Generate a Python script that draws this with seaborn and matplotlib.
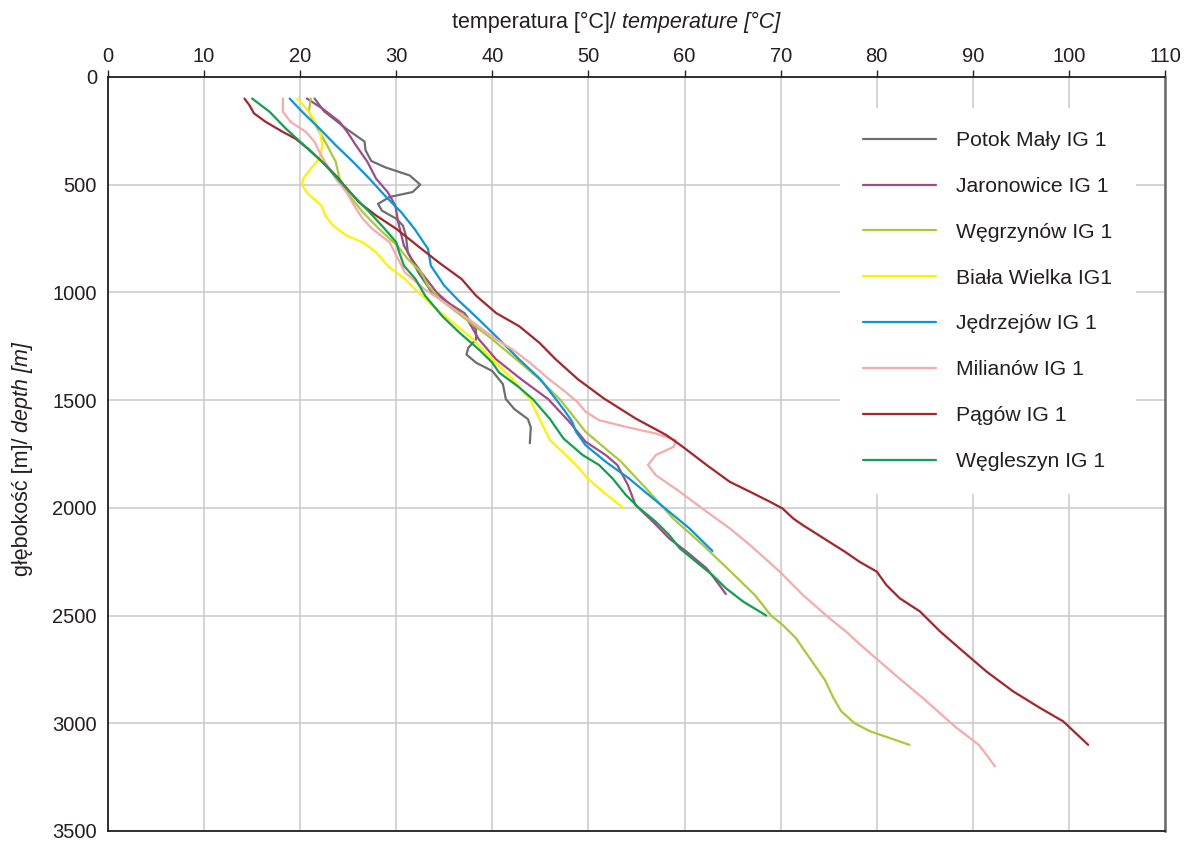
import pandas as pd
import numpy as np
import matplotlib
matplotlib.use("Agg")
import matplotlib.pyplot as plt
import seaborn as sns

# profile temperatur w otworach: glebokosc [m] / temperatura [C]
potok_depth = [100, 160, 240, 300, 340, 390, 420, 457, 500, 534, 557, 589, 620, 658, 690, 736, 814, 907, 1000,
               1096, 1172, 1218, 1257, 1288, 1326, 1365, 1426, 1495, 1542, 1588, 1626, 1700]
potok_temp = [21.5, 22.5, 24.8, 26.7, 26.8, 27.4, 28.9, 31.4, 32.5, 31.7, 29.3, 28.1, 28.5, 30.0, 30.7, 31.0, 31.2, 32.3, 33.7,
              37.1, 38.3, 38.3, 37.5, 37.3, 38.3, 40.0, 41.1, 41.4, 42.3, 43.7, 44.0, 43.9]

jaron_depth = [100, 146, 208, 255, 317, 394, 472, 534, 596, 674, 783, 845, 907, 1000, 1126, 1218, 1311, 1403, 1495,
               1600, 1693, 1755, 1801, 1894, 1987, 2064, 2142, 2203, 2281, 2327, 2400]
jaron_temp = [20.7, 22.3, 24.1, 24.9, 25.8, 27.0, 27.9, 29.1, 29.9, 30.2, 30.8, 31.6, 32.6, 34.2, 37.4, 38.6, 40.4, 43.0, 45.8,
              48.0, 49.7, 51.8, 53.0, 54.1, 54.9, 56.7, 58.4, 60.2, 62.3, 63.1, 64.3]

wegrz_depth = [100, 161, 239, 317, 394, 472, 550, 627, 705, 783, 845, 907, 969, 1034, 1126, 1218, 1311, 1403, 1500,
               1647, 1786, 1910, 2049, 2172, 2296, 2404, 2500, 2543, 2605, 2651, 2728, 2798, 2883, 2944, 3000, 3037, 3100]
wegrz_temp = [21.1, 20.9, 21.8, 22.8, 23.7, 24.1, 25.1, 26.5, 28.2, 30.1, 31.2, 32.6, 33.3, 34.6, 37.3, 40.0, 42.5, 44.9, 47.1,
              49.7, 53.4, 56.0, 58.8, 61.9, 64.8, 67.3, 69.0, 70.2, 71.6, 72.3, 73.5, 74.6, 75.5, 76.3, 77.7, 79.3, 83.4]

biala_depth = [100, 161, 239, 317, 379, 425, 472, 503, 542, 596, 643, 689, 736, 767, 814, 876, 938, 1000, 1093,
               1218, 1311, 1403, 1495, 1588, 1686, 1740, 1801, 1863, 1925, 2000]
biala_temp = [19.7, 20.9, 22.0, 22.3, 22.0, 21.1, 20.3, 20.2, 20.8, 22.2, 22.6, 23.4, 24.8, 26.5, 27.9, 29.1, 30.9, 32.3, 34.6,
              38.0, 40.0, 42.1, 43.9, 44.9, 46.0, 47.3, 48.7, 49.9, 51.5, 53.6]

jedrz_depth = [100, 161, 239, 317, 394, 472, 550, 627, 705, 798, 876, 969, 1034, 1126, 1218, 1311, 1403, 1495,
               1554, 1600, 1647, 1709, 1786, 1863, 1941, 2018, 2095, 2200]
jedrz_temp = [18.9, 20.2, 22.0, 23.7, 25.5, 27.2, 28.8, 30.5, 31.9, 33.3, 33.6, 35.0, 36.4, 38.6, 40.7, 42.8, 45.0, 46.6,
              47.6, 48.3, 48.7, 49.7, 51.8, 54.2, 56.3, 58.4, 60.5, 62.9]

milian_depth = [100, 161, 208, 255, 301, 348, 410, 472, 534, 596, 658, 705, 767, 829, 907, 984, 1034, 1126, 1218, 1265,
                1326, 1403, 1465, 1511, 1554, 1593, 1624, 1655, 1686, 1716, 1755, 1801, 1848, 1925, 2018, 2095, 2172,
                2296, 2404, 2513, 2574, 2636, 2728, 2775, 2883, 3021, 3099, 3145, 3200]
milian_temp = [18.2, 18.2, 19.0, 20.6, 21.5, 22.0, 22.8, 23.7, 24.8, 25.6, 26.5, 27.5, 29.3, 30.0, 30.9, 32.9, 34.6, 37.6, 40.4, 42.1,
               43.9, 45.9, 47.7, 48.9, 49.7, 51.1, 53.9, 57.0, 59.1, 58.9, 57.0, 56.2, 57.0, 59.5, 62.3, 64.7, 66.8,
               69.9, 72.3, 75.1, 76.8, 78.3, 80.7, 81.9, 84.8, 88.3, 90.6, 91.4, 92.3]

pagow_depth = [100, 130, 169, 208, 255, 286, 332, 394, 457, 519, 581, 643, 705, 783, 860, 938, 1015, 1096, 1157, 1234,
               1311, 1403, 1492, 1585, 1662, 1716, 1801, 1879, 1925, 1972, 2003, 2049, 2080, 2142, 2204, 2250, 2296,
               2358, 2389, 2420, 2481, 2574, 2667, 2759, 2852, 2929, 2991, 3037, 3100]
pagow_temp = [14.2, 14.7, 15.2, 16.4, 18.2, 19.5, 20.8, 22.3, 23.7, 24.9, 26.1, 27.9, 30.0, 32.2, 34.4, 36.8, 38.3, 40.4, 42.8, 44.9,
              46.6, 48.9, 51.6, 54.9, 58.1, 59.8, 62.3, 64.7, 66.8, 68.9, 70.2, 71.3, 72.3, 74.5, 76.7, 78.2, 80.0,
              81.0, 81.7, 82.4, 84.5, 86.6, 89.0, 91.4, 94.2, 97.0, 99.4, 100.5, 102.0]

wegl_depth = [100, 161, 239, 317, 394, 472, 550, 627, 705, 767, 814, 876, 938, 1015, 1111, 1188, 1265, 1326, 1372,
              1434, 1495, 1588, 1678, 1755, 1801, 1863, 1941, 2002, 2064, 2126, 2188, 2250, 2312, 2373, 2435, 2500]
wegl_temp = [15.0, 16.8, 18.5, 20.4, 22.3, 23.9, 25.5, 27.2, 28.8, 30.0, 30.3, 30.8, 32.0, 33.0, 34.8, 36.6, 38.6, 40.0, 40.7,
             42.6, 44.2, 46.0, 47.4, 49.4, 51.1, 52.5, 53.9, 55.3, 57.0, 58.4, 59.5, 61.2, 62.9, 64.3, 66.1, 68.5]

wells = ["Potok Mały IG 1", "Jaronowice IG 1", "Węgrzynów IG 1", "Biała Wielka IG1",
         "Jędrzejów IG 1", "Milianów IG 1", "Pągów IG 1", "Węgleszyn IG 1"]
colors = ["#6d6e71", "#a3498b", "#a8c93a", "#fff200", "#0a96d8", "#f7aaaa", "#a5252d", "#0fa14b"]

profiles = [(potok_depth, potok_temp), (jaron_depth, jaron_temp), (wegrz_depth, wegrz_temp),
            (biala_depth, biala_temp), (jedrz_depth, jedrz_temp), (milian_depth, milian_temp),
            (pagow_depth, pagow_temp), (wegl_depth, wegl_temp)]

rows = []
for name, (dep, tmp) in zip(wells, profiles):
    for d, t in zip(dep, tmp):
        rows.append({"otwor": name, "glebokosc": d, "temperatura": t})
df = pd.DataFrame(rows)

sns.set_style("white")
plt.rcParams['font.family'] = ['Liberation Sans', 'DejaVu Sans']

DARK = "#231f20"
fig = plt.figure(figsize=(11.84, 8.41), dpi=100)
ax = fig.add_axes([108 / 1184, 10 / 841, 1057 / 1184, 754 / 841])

sns.lineplot(data=df, x="temperatura", y="glebokosc", hue="otwor", hue_order=wells,
             palette=dict(zip(wells, colors)), orient="y", estimator=None, sort=True,
             linewidth=1.6, ax=ax)

ax.set_xlim(0, 110)
ax.set_ylim(3500, 0)
ax.set_xticks(np.arange(0, 111, 10))
ax.set_yticks(np.arange(0, 3501, 500))
ax.xaxis.tick_top()
ax.tick_params(axis="both", labelsize=14.5, colors=DARK, length=5, width=1, pad=3)
ax.set_xlabel("")
ax.set_ylabel("")
ax.grid(True, color="#c9c9c9", linewidth=1.1)
ax.set_axisbelow(True)

for side in ["top", "left", "bottom"]:
    ax.spines[side].set_color(DARK)
    ax.spines[side].set_linewidth(1.3)
ax.spines["right"].set_color("#6a6a6a")
ax.spines["right"].set_linewidth(1.8)

# opisy osi: polski zwykly + angielski kursywa
t1 = fig.text(452 / 1184, 1 - 28 / 841, "temperatura [°C]/ ", fontsize=15.5, color=DARK,
              ha="left", va="baseline")
ax.annotate("temperature [°C]", xy=(1, 0), xycoords=t1, fontsize=15.5, style="italic",
            color=DARK, ha="left", va="bottom", annotation_clip=False)

t2 = fig.text(12 / 1184, 1 - 576 / 841, "głębokość [m]/ ", fontsize=15.5, color=DARK,
              rotation=90, ha="left", va="bottom")
ax.annotate("depth [m]", xy=(0, 1), xycoords=t2, fontsize=15.5, style="italic",
            color=DARK, rotation=90, ha="left", va="bottom", annotation_clip=False)

handles, labels = ax.get_legend_handles_labels()
leg = ax.legend(handles, labels, loc="upper left",
                bbox_to_anchor=((840 - 108) / 1057, (831 - 108) / 754),
                borderaxespad=0, borderpad=1.1, handlelength=3.45, handletextpad=0.95,
                labelspacing=1.27, fontsize=15.2, frameon=True, fancybox=False,
                framealpha=1, facecolor="white", edgecolor="none")
for txt in leg.get_texts():
    txt.set_color(DARK)

fig.savefig("out.png", dpi=100)
